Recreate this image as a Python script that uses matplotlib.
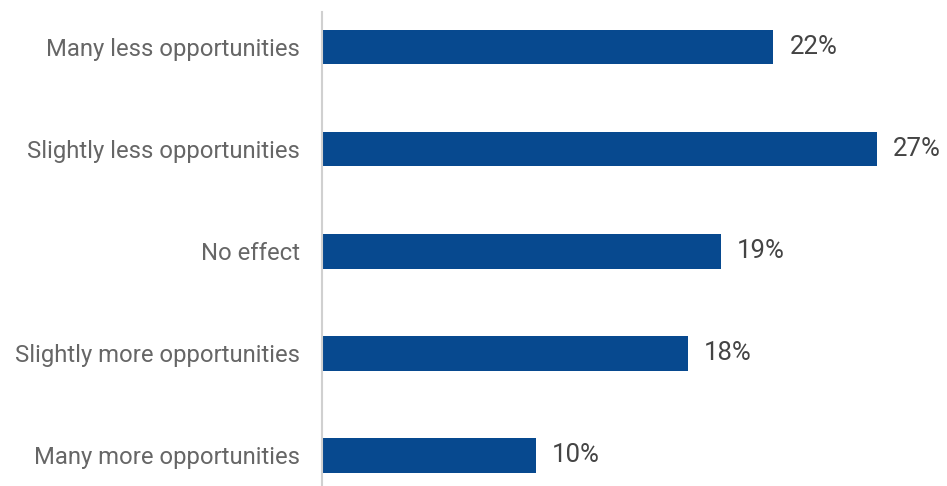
import matplotlib.pyplot as plt

plt.rcParams['font.family'] = ['Roboto', 'DejaVu Sans']

categorias = ["Many less opportunities", "Slightly less opportunities", "No effect",
              "Slightly more opportunities", "Many more opportunities"]
# longitudes (las etiquetas muestran el valor redondeado)
valores = [21.95, 27.0, 19.4, 17.8, 10.4]
etiquetas = ["22%", "27%", "19%", "18%", "10%"]

COL_BARRA = "#07498F"
COL_TEXTO = "#666666"
COL_VALOR = "#444444"

fig = plt.figure(figsize=(9.47, 4.86), dpi=100)
ax = fig.add_axes([322 / 947, 0.0, 615 / 947, 474 / 486])

pos = list(range(len(categorias)))
ax.barh(pos, valores, height=0.34, color=COL_BARRA)
for p, v, t in zip(pos, valores, etiquetas):
    ax.annotate(t, (v, p), xytext=(11.5, 0), textcoords="offset points",
                va="center", ha="left", fontsize=18.5, color=COL_VALOR)

ax.set_xlim(0, 29.9)
ax.set_ylim(4.30, -0.343)
ax.set_yticks(pos)
ax.set_yticklabels(categorias, fontsize=17.2, color=COL_TEXTO)
ax.tick_params(axis="y", length=0, pad=16)
ax.set_xticks([])
for s in ["top", "right", "bottom"]:
    ax.spines[s].set_visible(False)
ax.spines["left"].set_color("#d0d0d0")
ax.spines["left"].set_linewidth(1.5)

fig.savefig("out.png", dpi=100)
